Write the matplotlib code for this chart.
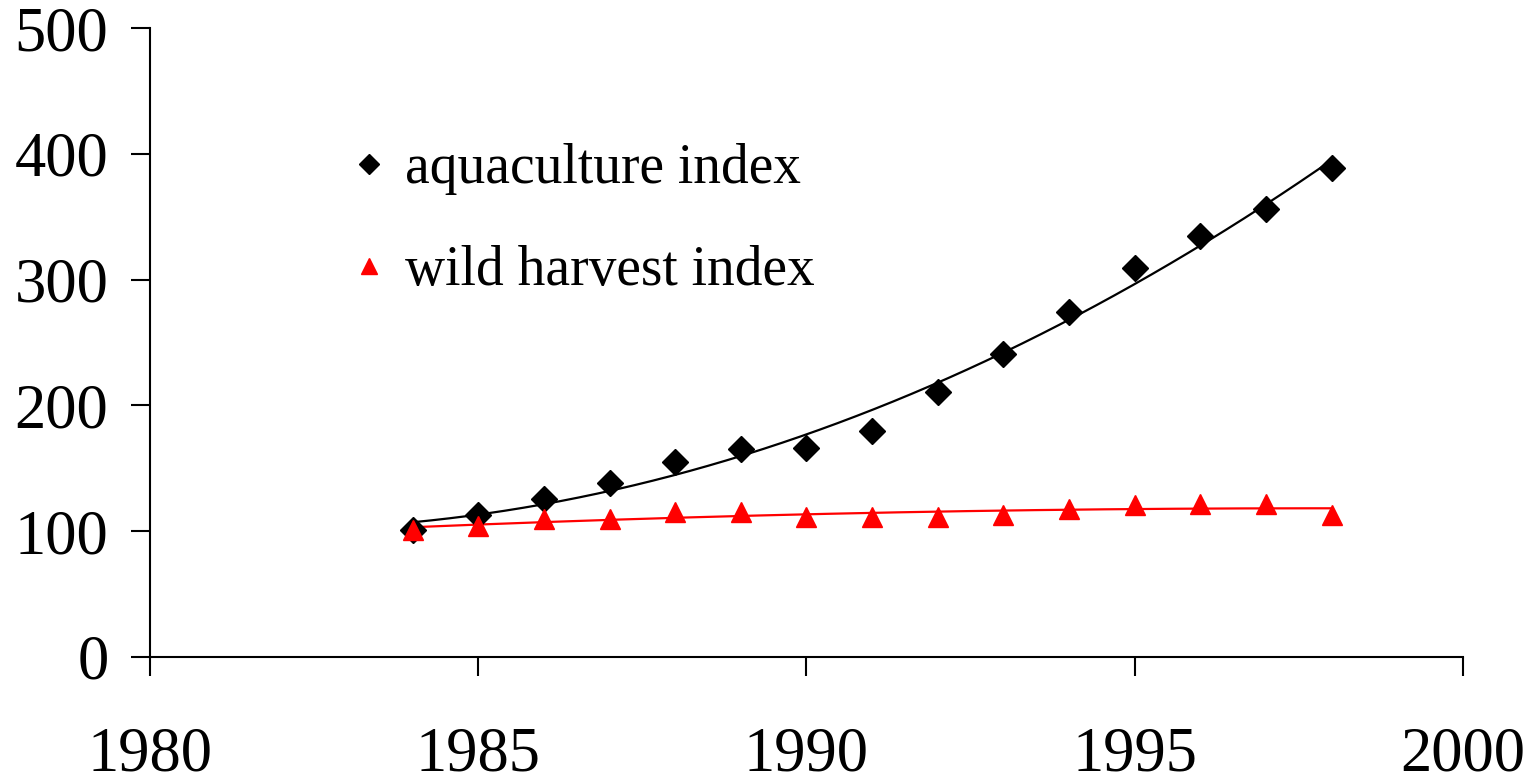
import numpy as np
import matplotlib.pyplot as plt

years = [1984, 1985, 1986, 1987, 1988, 1989, 1990, 1991, 1992, 1993, 1994, 1995, 1996, 1997, 1998]
aquaculture = [101, 113, 126, 138, 155, 165, 166, 180, 211, 241, 274, 309, 335, 356, 389]
wild_harvest = [101, 104, 110, 110, 115, 115, 111, 111, 111, 113, 118, 121, 122, 122, 113]

plt.rcParams['font.family'] = ['Liberation Serif', 'DejaVu Serif']

fig = plt.figure(figsize=(15.39, 7.84), dpi=100)
ax = fig.add_axes([0.0975, 0.162, 0.853, 0.802])

x = np.array(years)
xs = np.linspace(x.min(), x.max(), 200)

# polynomial trendlines through each series
ca = np.polyfit(x - 1984, aquaculture, 2)
cw = np.polyfit(x - 1984, wild_harvest, 2)
ax.plot(xs, np.polyval(ca, xs - 1984), color='black', lw=1.6)
ax.plot(xs, np.polyval(cw, xs - 1984), color='red', lw=1.6)

ax.plot(years, aquaculture, 'D', color='black', ms=13, ls='none', label='aquaculture index')
ax.plot(years, wild_harvest, '^', color='red', ms=15, ls='none', label='wild harvest index')

ax.set_xlim(1980, 2000)
ax.set_ylim(0, 500)
ax.set_xticks([1980, 1985, 1990, 1995, 2000])
ax.set_yticks([0, 100, 200, 300, 400, 500])
ax.spines['top'].set_visible(False)
ax.spines['right'].set_visible(False)
ax.spines['left'].set_linewidth(1.5)
ax.spines['bottom'].set_linewidth(1.5)
ax.tick_params(axis='both', direction='out', length=14, width=1.5, labelsize=45)
ax.tick_params(axis='x', pad=36)
ax.tick_params(axis='y', pad=16)

leg = ax.legend(loc='upper left', bbox_to_anchor=(0.116, 0.897), frameon=False, fontsize=40,
                handlelength=0.6, handletextpad=0.35, labelspacing=0.9, markerscale=0.75)

fig.savefig('out.png', dpi=100)
